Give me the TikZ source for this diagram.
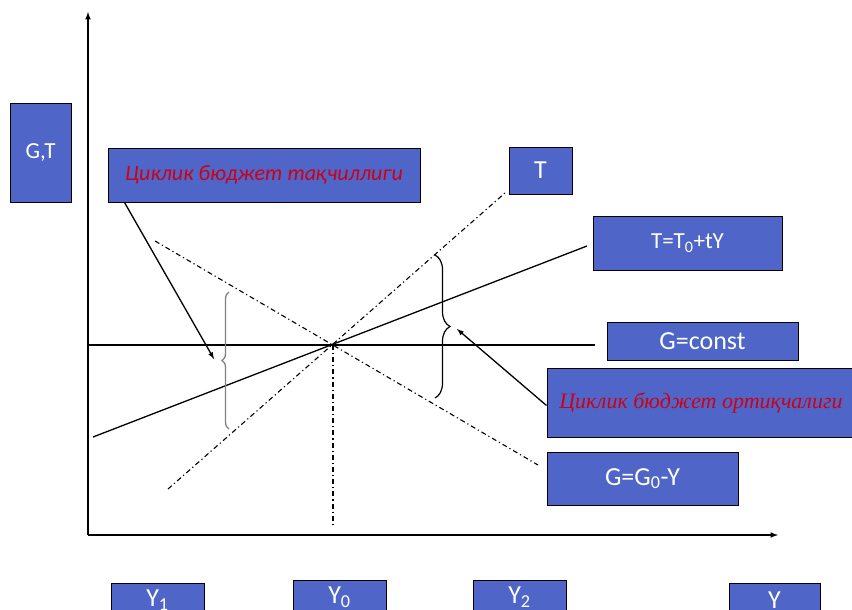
\documentclass[tikz,border=0pt]{standalone}
\usepackage{fontspec}
\setmainfont{Carlito}
\newfontfamily\timesfont{Liberation Serif}
\usetikzlibrary{calc,positioning,arrows,decorations.pathreplacing}
\definecolor{boxblue}{RGB}{79,102,200}
\definecolor{boxred}{RGB}{205,0,20}

\begin{document}
\begin{tikzpicture}[x=1pt,y=-1pt,>=latex,
  box/.style={draw=black,fill=boxblue,line width=1pt,text=white,inner sep=0pt,font=\fontsize{26}{26}\selectfont},
  redtxt/.style={text=boxred,font=\fontsize{22}{22}\selectfont\itshape},
  dd/.style={line width=1.1pt,dash pattern=on 5pt off 3pt on 1.2pt off 3pt},
  ln/.style={line width=1.3pt}]
  \useasboundingbox (0,0) rectangle (852,610);
  \clip (0,0) rectangle (852,610);

  % axes
  \coordinate (o) at (88,535);
  \coordinate (ytop) at (88,12);
  \coordinate (xend) at (778,535);
  \draw[->,line width=1.5pt] (o) -- (ytop);
  \draw[->,line width=1.5pt] (o) -- (xend);

  % lines
  \coordinate (e) at (333,345);
  \coordinate (gl) at (88,345);
  \coordinate (gr) at (595,345);
  \coordinate (tl) at (93,437);
  \coordinate (tr) at (587,246);
  \coordinate (ta) at (168,489);
  \coordinate (tb) at (505,193);
  \coordinate (ga) at (155,241);
  \coordinate (gb) at (538,465);
  \coordinate (ybot) at (333,527);
  \draw[ln] (gl) -- (gr);
  \draw[ln] (tl) -- (tr);
  \draw[dd] (ta) -- (tb);
  \draw[dd] (ga) -- (gb);
  \draw[dd] (e) -- (ybot);

  % braces
  \coordinate (lb1) at (229,429);
  \coordinate (lb2) at (229,292);
  \coordinate (rb1) at (435,255);
  \coordinate (rb2) at (435,398);
  \draw[decorate,decoration={brace,amplitude=7pt},gray,line width=1.3pt] (lb1) -- (lb2);
  \draw[decorate,decoration={brace,amplitude=15pt},line width=1.2pt] (rb1) -- (rb2);

  % boxes
  \node[box,minimum width=61pt,minimum height=98pt,font=\fontsize{23}{23}\selectfont] (gt) at (40.5,153) {G,T};
  \node[box,minimum width=312pt,minimum height=54pt] (def) at (264,175) {\textcolor{boxred}{\fontsize{22}{22}\selectfont\itshape Циклик бюджет тақчиллиги}};
  \node[box,minimum width=63pt,minimum height=47pt] (t) at (540.5,170.5) {T};
  \node[box,minimum width=189pt,minimum height=54pt,font=\fontsize{23}{23}\selectfont] (tt) at (687.5,243) {T=T\textsubscript{0}+tY};
  \node[box,minimum width=191pt,minimum height=38pt] (gc) at (702.5,341.5) {G=const};
  \node[box,minimum width=320pt,minimum height=69pt] (sur) at (707,402.5) {};
  \node[redtxt,font=\timesfont\fontsize{22}{22}\selectfont\itshape] (surtxt) at (701,403) {Циклик бюджет ортиқчалиги};
  \node[box,minimum width=191pt,minimum height=53pt] (g0) at (642.5,478.5) {G=G\textsubscript{0}-Y};
  \node[box,minimum width=93pt,minimum height=34pt] (y1) at (157.5,600) {Y\textsubscript{1}};
  \node[box,minimum width=93pt,minimum height=34pt] (y0) at (339.5,597) {Y\textsubscript{0}};
  \node[box,minimum width=93pt,minimum height=34pt] (y2) at (519.5,597) {Y\textsubscript{2}};
  \node[box,minimum width=91pt,minimum height=34pt] (y) at (774.5,600) {Y};

  % pointers
  \coordinate (dtip) at (214,359);
  \coordinate (stip) at (457,329);
  \draw[->,ln] ($(def.south west)+(17,0)$) -- (dtip);
  \draw[->,ln] ($(sur.west)+(0,3)$) -- (stip);
\end{tikzpicture}
\end{document}
